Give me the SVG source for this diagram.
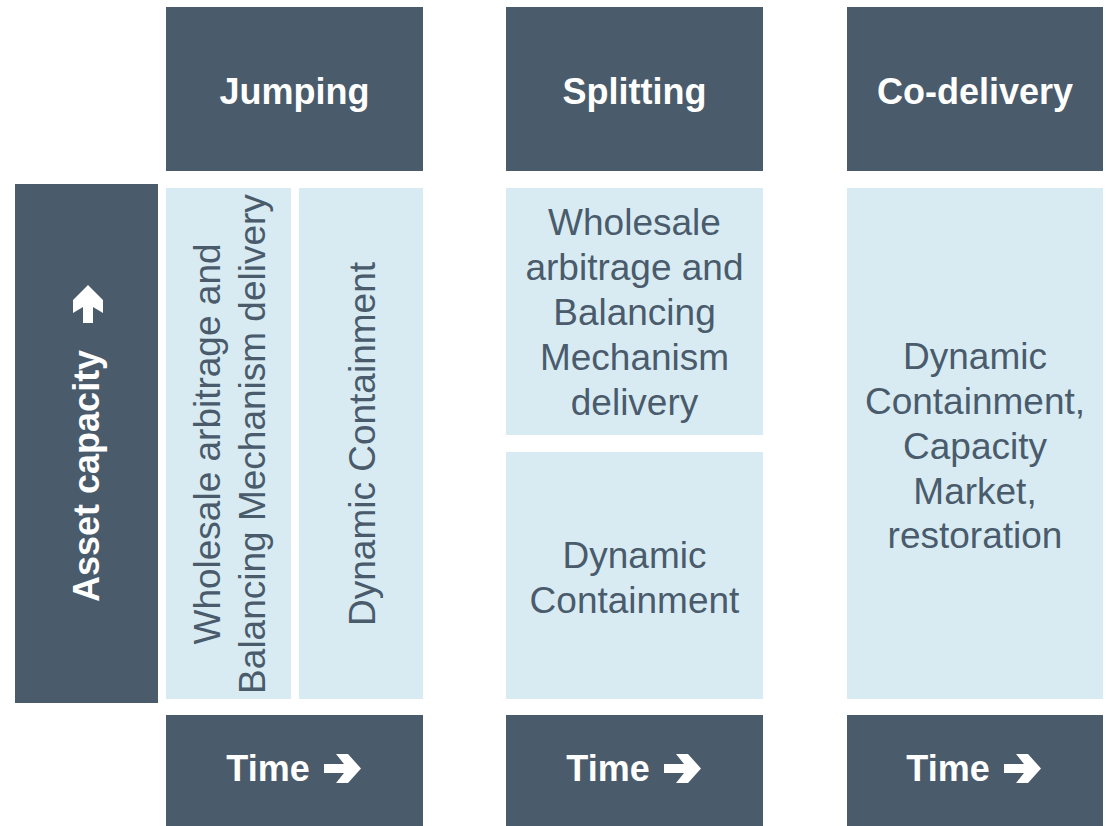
<svg xmlns="http://www.w3.org/2000/svg" width="1106" height="826" viewBox="0 0 1106 826">
  <style>
    .dark { fill: #4a5b6c; }
    .light { fill: #d8ebf3; }
    .head { font-family: "Liberation Sans", Arial, sans-serif; font-weight: bold; font-size: 36px; fill: #ffffff; text-anchor: middle; }
    .body { font-family: "Liberation Sans", Arial, sans-serif; font-size: 37px; fill: #4a5b6c; text-anchor: middle; }
    .icon { fill: #ffffff; }
  </style>
  <defs>
    <!-- right-pointing block arrow used after "Time" -->
    <polygon id="arrowRight" points="0,10 20,10 12,0 24,0 37,14.5 24,29 12,29 20,19 0,19"/>
  </defs>
  <rect width="1106" height="826" fill="#ffffff"/>

  <!-- Vertical axis label -->
  <g id="axis-capacity">
    <rect class="dark" x="15" y="184" width="143" height="519"/>
    <text class="head" style="text-anchor:start" transform="translate(99,602) rotate(-90)">Asset capacity</text>
    <polygon class="icon" points="73,300 88,285 103,300 103,313 93,307 93,323 83,323 83,307 73,313"/>
  </g>

  <!-- Column: Jumping -->
  <g id="col-jumping">
    <rect class="dark" x="166" y="7" width="257" height="164"/>
    <text class="head" x="294.5" y="104">Jumping</text>
    <rect class="light" x="166" y="188" width="125" height="511"/>
    <text class="body" transform="translate(220,444) rotate(-90)">Wholesale arbitrage and</text>
    <text class="body" transform="translate(265,444) rotate(-90)">Balancing Mechanism delivery</text>
    <rect class="light" x="299" y="188" width="124" height="511"/>
    <text class="body" transform="translate(375,444) rotate(-90)">Dynamic Containment</text>
    <rect class="dark" x="166" y="715" width="257" height="111"/>
    <text class="head" x="268" y="781">Time</text>
    <use href="#arrowRight" class="icon" x="324" y="754"/>
  </g>

  <!-- Column: Splitting -->
  <g id="col-splitting">
    <rect class="dark" x="506" y="7" width="257" height="164"/>
    <text class="head" x="634.5" y="104">Splitting</text>
    <rect class="light" x="506" y="188" width="257" height="247"/>
    <text class="body" x="634.5" y="235">Wholesale</text>
    <text class="body" x="634.5" y="280">arbitrage and</text>
    <text class="body" x="634.5" y="325">Balancing</text>
    <text class="body" x="634.5" y="370">Mechanism</text>
    <text class="body" x="634.5" y="415">delivery</text>
    <rect class="light" x="506" y="452" width="257" height="247"/>
    <text class="body" x="634.5" y="568">Dynamic</text>
    <text class="body" x="634.5" y="613">Containment</text>
    <rect class="dark" x="506" y="715" width="257" height="111"/>
    <text class="head" x="608" y="781">Time</text>
    <use href="#arrowRight" class="icon" x="664" y="754"/>
  </g>

  <!-- Column: Co-delivery -->
  <g id="col-codelivery">
    <rect class="dark" x="847" y="7" width="256" height="164"/>
    <text class="head" x="975" y="104">Co-delivery</text>
    <rect class="light" x="847" y="188" width="256" height="511"/>
    <text class="body" x="975" y="369">Dynamic</text>
    <text class="body" x="975" y="414">Containment,</text>
    <text class="body" x="975" y="459">Capacity</text>
    <text class="body" x="975" y="504">Market,</text>
    <text class="body" x="975" y="548">restoration</text>
    <rect class="dark" x="847" y="715" width="256" height="111"/>
    <text class="head" x="948" y="781">Time</text>
    <use href="#arrowRight" class="icon" x="1004" y="754"/>
  </g>

  <!-- No connectors in this layout -->
  <g id="connectors"/>
</svg>
